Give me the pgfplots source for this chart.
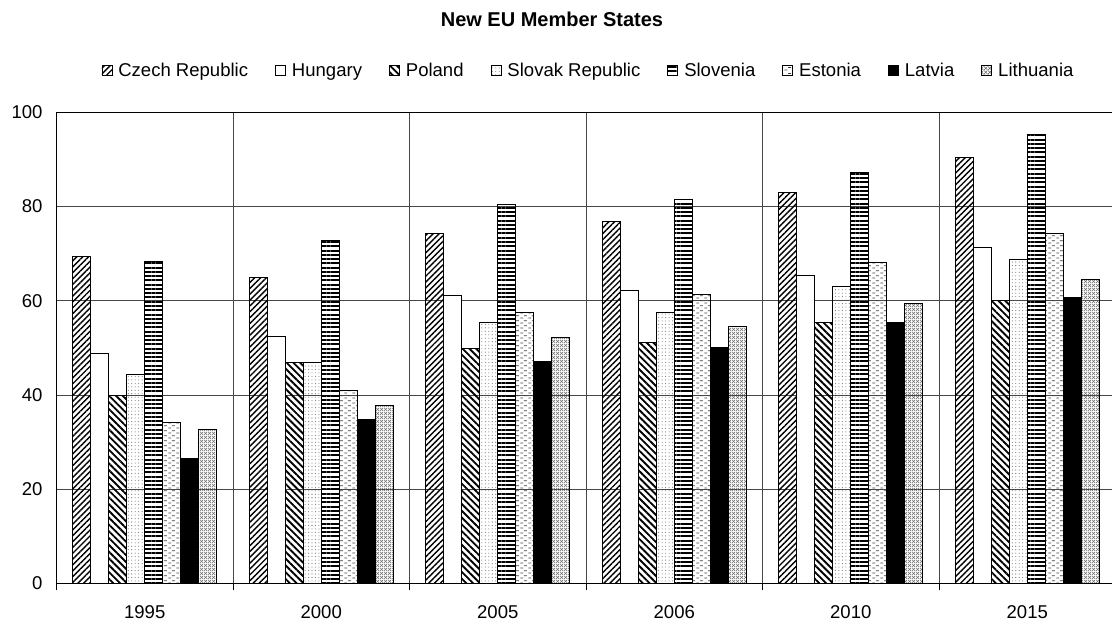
\documentclass[border=0pt]{standalone}
\usepackage{fontspec}
\setmainfont{Liberation Sans}
\usepackage{pgfplots}
\pgfplotsset{compat=1.18}
\usetikzlibrary{patterns.meta}

\tikzdeclarepattern{
  name=estdash,
  type=uncolored,
  bounding box={(0,0) and (6pt,4pt)},
  tile size={(6pt,4pt)},
  code={
    \draw[line width=0.7pt] (0.3pt,0.8pt) -- (2.7pt,0.8pt);
    \draw[line width=0.7pt] (3.3pt,2.8pt) -- (5.7pt,2.8pt);
  }
}
\tikzdeclarepattern{
  name=lithmesh,
  type=uncolored,
  bounding box={(0,0) and (3pt,3pt)},
  tile size={(3pt,3pt)},
  code={
    \draw[line width=0.45pt] (0,0) -- (3pt,3pt);
    \draw[line width=0.45pt] (0,3pt) -- (3pt,0);
  }
}

\newcommand{\fs}{\fontsize{13.9}{16}\selectfont}

\begin{document}
\begin{tikzpicture}
\useasboundingbox (-42.375pt,-31.95pt) rectangle (791.625pt,437.55pt);
\begin{axis}[
  at={(0,0)}, anchor=south west,
  scale only axis,
  width=794.25pt, height=353.25pt,
  xmin=-0.5, xmax=5.5, ymin=0, ymax=100,
  ybar=0pt, bar width=0.102,
  xtick={0,1,2,3,4,5},
  xticklabels={1995,2000,2005,2006,2010,2015},
  minor xtick={-0.5,0.5,1.5,2.5,3.5,4.5,5.5},
  ytick={0,20,40,60,80,100},
  xminorgrids=true, ymajorgrids=true,
  xmajorgrids=false,
  tick pos=left,
  xtick align=outside,
  major x tick style={draw=none},
  minor x tick style={draw=black, line width=0.75pt},
  minor tick length=5.25pt,
  major y tick style={draw=none},
  grid style={draw=black!72, line width=0.75pt},
  minor grid style={draw=black!72, line width=0.75pt},
  axis line style={draw=black, line width=0.75pt},
  /pgf/number format/assume math mode=true,
  tick label style={font=\fs},
  xticklabel style={yshift=-9pt},
  yticklabel style={xshift=-7pt},
  legend columns=8,
  legend style={
    at={(rel axis cs:0.5014,1)}, anchor=center, yshift=30.7pt,
    draw=none, fill=none, font=\fs,
    inner sep=0pt, nodes={inner sep=0pt, text height=10pt, text depth=3pt},
    /tikz/every odd column/.append style={column sep=4.5pt},
    /tikz/every even column/.append style={column sep=20.3pt},
  },
  legend image code/.code={\draw[#1, line width=0.6pt] (0pt,-2.9pt) rectangle (7.5pt,4.6pt);},
  every axis plot/.append style={draw=black, line width=0.75pt},
]
\addplot[pattern={Lines[angle=45,distance=3.1pt,line width=1.05pt]}]
  coordinates {(0,69.4) (1,65.0) (2,74.3) (3,76.8) (4,83.0) (5,90.5)};
\addlegendentry{Czech Republic}
\addplot[fill=white]
  coordinates {(0,48.8) (1,52.5) (2,61.1) (3,62.1) (4,65.3) (5,71.3)};
\addlegendentry{Hungary}
\addplot[pattern={Lines[angle=-45,distance=3.6pt,line width=1.4pt]}]
  coordinates {(0,39.9) (1,46.8) (2,49.9) (3,51.2) (4,55.4) (5,60.1)};
\addlegendentry{Poland}
\addplot[pattern={Dots[distance=2.6pt,radius=0.4pt]}, pattern color=black!55]
  coordinates {(0,44.4) (1,47.0) (2,55.4) (3,57.6) (4,63.0) (5,68.8)};
\addlegendentry{Slovak Republic}
\addplot[pattern={Lines[angle=0,distance=3.2pt,line width=1.5pt]}]
  coordinates {(0,68.4) (1,72.9) (2,80.35) (3,81.6) (4,87.3) (5,95.3)};
\addlegendentry{Slovenia}
\addplot[pattern=estdash, pattern color=black!75]
  coordinates {(0,34.1) (1,41.0) (2,57.6) (3,61.4) (4,68.2) (5,74.3)};
\addlegendentry{Estonia}
\addplot[fill=black]
  coordinates {(0,26.6) (1,34.9) (2,47.2) (3,50.0) (4,55.5) (5,60.6)};
\addlegendentry{Latvia}
\addplot[pattern=lithmesh, pattern color=black!60]
  coordinates {(0,32.7) (1,37.8) (2,52.3) (3,54.5) (4,59.5) (5,64.6)};
\addlegendentry{Lithuania}
\end{axis}
\node[font=\bfseries\fontsize{15}{18}\selectfont] at (371.6pt,423.3pt) {New EU Member States};
\end{tikzpicture}
\end{document}
